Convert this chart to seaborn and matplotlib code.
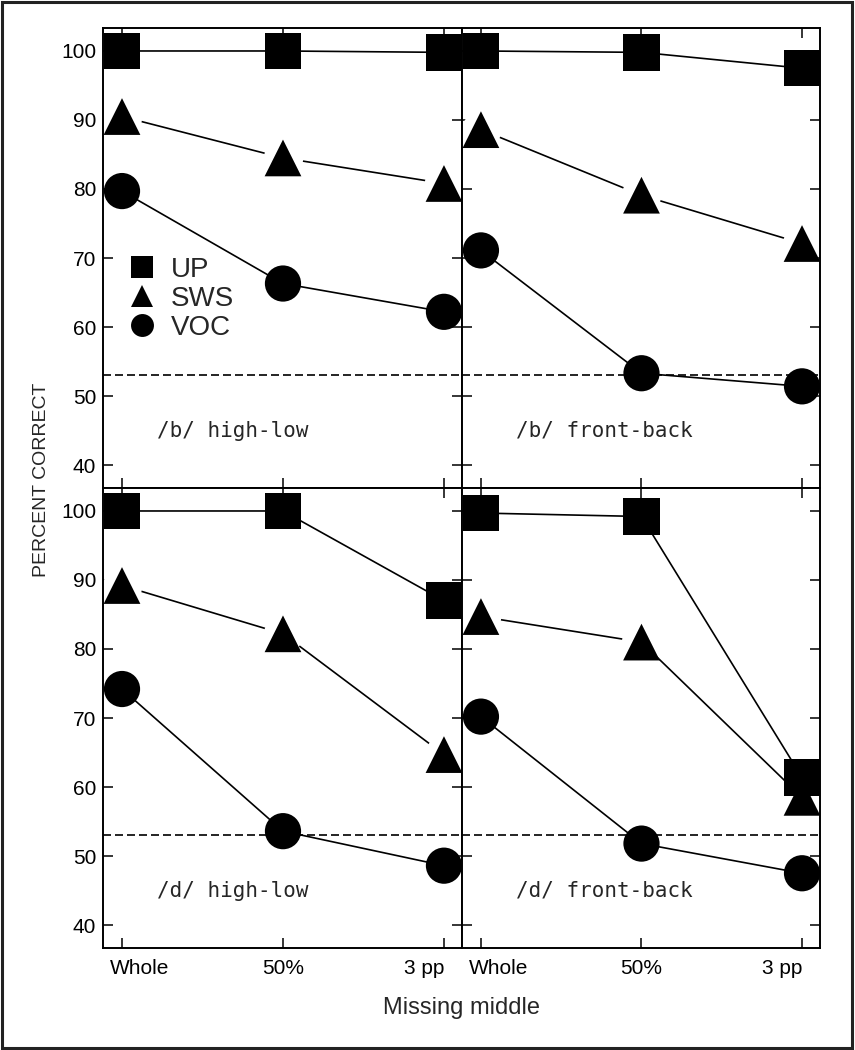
import numpy as np
import pandas as pd
import matplotlib
matplotlib.use("Agg")
import matplotlib.pyplot as plt
import seaborn as sns
from matplotlib.lines import Line2D
from matplotlib.patches import Rectangle
from matplotlib.transforms import ScaledTranslation

# Data
conditions = ["Whole", "50%", "3 pp"]
panels = ["/b/ high-low", "/b/ front-back", "/d/ high-low", "/d/ front-back"]
series = ["UP", "SWS", "VOC"]

up_b_hl = [100, 100, 99.8]
sws_b_hl = [90.5, 84.5, 80.8]
voc_b_hl = [79.7, 66.3, 62.2]

up_b_fb = [100, 99.8, 97.5]
sws_b_fb = [88.6, 79.1, 72.1]
voc_b_fb = [71.1, 53.3, 51.4]

up_d_hl = [100, 100, 87.0]
sws_d_hl = [89.2, 82.2, 64.7]
voc_d_hl = [74.2, 53.6, 48.6]

up_d_fb = [99.7, 99.2, 61.4]
sws_d_fb = [84.7, 81.0, 58.5]
voc_d_fb = [70.2, 51.8, 47.5]

chance = 53

values = {
    "/b/ high-low": [up_b_hl, sws_b_hl, voc_b_hl],
    "/b/ front-back": [up_b_fb, sws_b_fb, voc_b_fb],
    "/d/ high-low": [up_d_hl, sws_d_hl, voc_d_hl],
    "/d/ front-back": [up_d_fb, sws_d_fb, voc_d_fb],
}

rows = []
for p in panels:
    for s, vals in zip(series, values[p]):
        for i, v in enumerate(vals):
            rows.append({"panel": p, "series": s, "pos": i, "pct": v})
df = pd.DataFrame(rows)

# Figure
sns.set_theme(style="ticks")
plt.rcParams["font.family"] = ["Liberation Sans", "DejaVu Sans"]

W, H = 855, 1050
fig = plt.figure(figsize=(W / 100, H / 100), dpi=100)


def px(l, t, r, b):
    return [l / W, 1 - b / H, (r - l) / W, (b - t) / H]


boxes = [px(103, 28, 462, 488), px(462, 28, 820, 488),
         px(103, 488, 462, 948), px(462, 488, 820, 948)]

markers = {"UP": "s", "SWS": "^", "VOC": "o"}
sizes = {"UP": 690, "SWS": 700, "VOC": 680}

for k, (p, box) in enumerate(zip(panels, boxes)):
    ax = fig.add_axes(box)
    sub = df[df["panel"] == p]

    ax.axhline(chance, color="black", lw=1.2, dashes=(4.8, 2.4), zorder=1)
    sns.lineplot(data=sub, x="pos", y="pct", units="series", estimator=None,
                 color="black", lw=1.2, ax=ax, legend=False, zorder=2)
    # white halo behind triangles (gaps in the connecting lines)
    sns.scatterplot(data=sub[sub["series"] == "SWS"], x="pos", y="pct",
                    marker="o", s=800, color="white", linewidth=0,
                    ax=ax, legend=False, zorder=3)
    sns.scatterplot(data=sub, x="pos", y="pct", style="series", markers=markers,
                    size="series", sizes=sizes, color="black", linewidth=0,
                    ax=ax, legend=False, zorder=4)

    ax.set_xlim(-0.118, 2.112)
    ax.set_ylim(36.67, 103.33)
    ax.set_xticks([0, 1, 2])
    ax.set_xticklabels(conditions)
    ax.set_yticks(range(40, 101, 10))
    ax.set_xlabel("")
    ax.set_ylabel("")
    for sp in ax.spines.values():
        sp.set_linewidth(1.4)
        sp.set_color("black")
        sp.set_zorder(6)
    ax.tick_params(direction="in", length=7.5, width=1.1, top=True, right=True,
                   labelsize=15, colors="black")
    ax.tick_params(axis="x", pad=8)
    ax.tick_params(axis="y", pad=5)
    ax.tick_params(labelleft=(k % 2 == 0), labelbottom=(k >= 2))

    ax.text(0.22, 45, p, family="DejaVu Sans Mono", fontsize=15,
            va="center", ha="left")

    if k >= 2:
        labs = ax.get_xticklabels()
        labs[0].set_ha("left")
        labs[0].set_transform(labs[0].get_transform()
                              + ScaledTranslation(-0.12, 0, fig.dpi_scale_trans))
        labs[2].set_ha("right")

    if k == 0:
        handles = [Line2D([], [], marker=markers[s], color="black", linestyle="none",
                          markersize=16.5, markeredgewidth=0) for s in series]
        ax.legend(handles, series, loc="upper left",
                  bbox_to_anchor=(128 / W, 1 - 257 / H), bbox_transform=fig.transFigure,
                  frameon=False, fontsize=20, handlelength=1.0, handletextpad=0.55,
                  labelspacing=0.1, borderpad=0, borderaxespad=0)

fig.text(41 / W, 1 - 480 / H, "PERCENT CORRECT", rotation=90,
         ha="center", va="center", fontsize=14)
fig.text(461 / W, 1 - 1008 / H, "Missing middle", ha="center", va="center",
         fontsize=17)

fig.add_artist(Rectangle((2 / W, 2 / H), 850 / W, 1046 / H, transform=fig.transFigure,
                         fill=False, edgecolor="#222222", lw=2.2))

fig.savefig("out.png", dpi=100)
